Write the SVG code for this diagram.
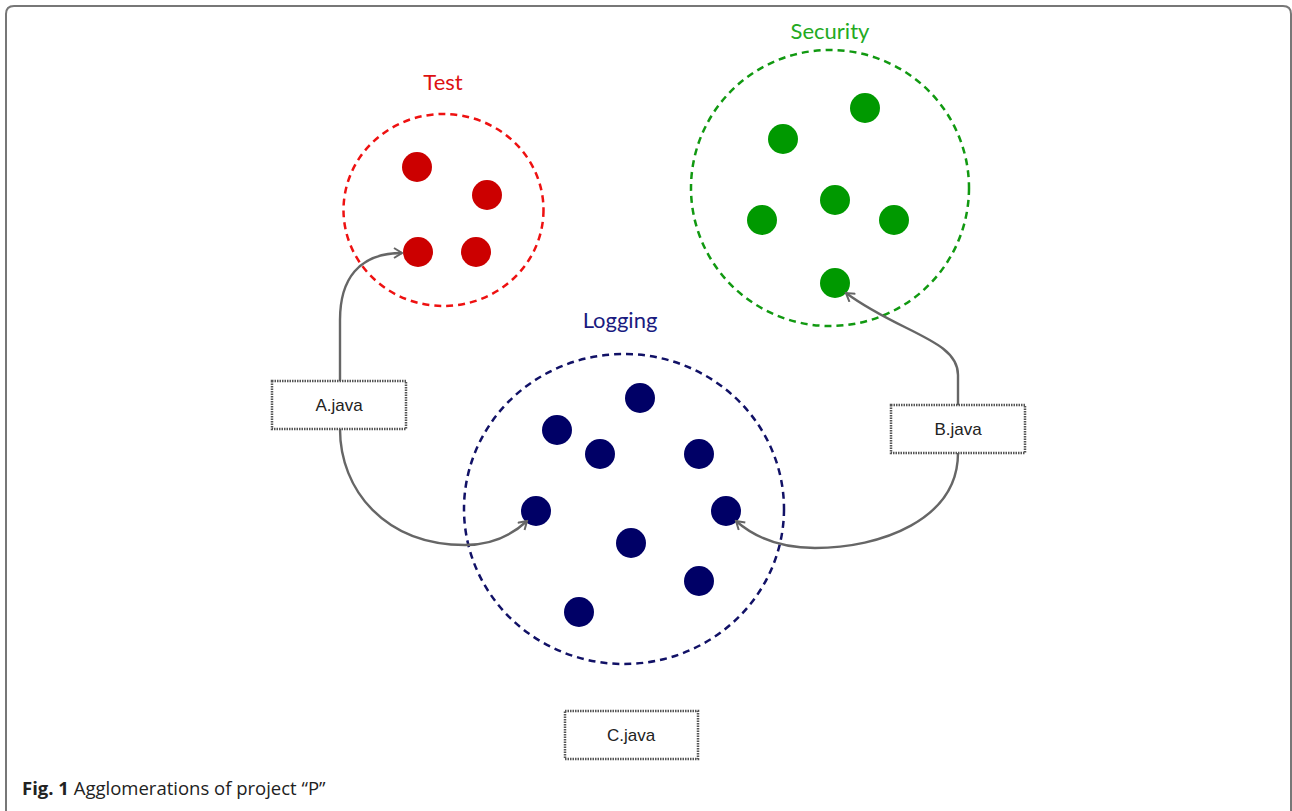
<svg xmlns="http://www.w3.org/2000/svg" width="1292" height="811" viewBox="0 0 1292 811">
<style>
.frame{fill:none;stroke:#777;stroke-width:2}
.clus{fill:none;stroke-width:2.5;stroke-dasharray:7 5}
.lbl{font-family:Lato,"Open Sans",sans-serif;font-size:22px;text-anchor:middle}
.box{fill:#fff;stroke:#555;stroke-width:2.5;stroke-dasharray:1.5 1}
.btxt{font-family:"Liberation Sans",Arial,sans-serif;font-size:17px;fill:#222;text-anchor:middle}
.conn{fill:none;stroke:#666;stroke-width:2.4}
.r{fill:#cc0000}.g{fill:#009900}.n{fill:#000066}
.cap{font-family:"Open Sans","Noto Sans",sans-serif;font-size:18.5px;fill:#222}
</style>
<defs>
<marker id="arr" viewBox="0 0 12 12" refX="10" refY="6" markerWidth="12" markerHeight="12" markerUnits="userSpaceOnUse" orient="auto">
<path d="M2,1 L10,6 L2,11" fill="none" stroke="#666" stroke-width="2"/>
</marker>
</defs>
<rect width="1292" height="811" fill="#fff"/>
<path class="frame" d="M6,811 V14 Q6,6 14,6 H1283 Q1291,6 1291,14 V811"/>

<g id="test">
<ellipse class="clus" cx="443.5" cy="210" rx="100" ry="96" stroke="#ee1111"/>
<text class="lbl" x="443" y="90" fill="#dd1111">Test</text>
<circle class="r" cx="417" cy="167" r="15"/>
<circle class="r" cx="487" cy="195" r="15"/>
<circle class="r" cx="418" cy="252" r="15"/>
<circle class="r" cx="476" cy="252" r="15"/>
</g>

<g id="security">
<ellipse class="clus" cx="830" cy="188" rx="139" ry="138" stroke="#119911"/>
<text class="lbl" x="830" y="39" fill="#22aa22">Security</text>
<circle class="g" cx="865" cy="108" r="15"/>
<circle class="g" cx="783" cy="139" r="15"/>
<circle class="g" cx="835" cy="200" r="15"/>
<circle class="g" cx="762" cy="220" r="15"/>
<circle class="g" cx="894" cy="220" r="15"/>
<circle class="g" cx="835" cy="283" r="15"/>
</g>

<g id="logging">
<ellipse class="clus" cx="624" cy="509" rx="160" ry="155" stroke="#111166"/>
<text class="lbl" x="620" y="328" fill="#1a1a80">Logging</text>
<circle class="n" cx="640" cy="398" r="15"/>
<circle class="n" cx="557" cy="430" r="15"/>
<circle class="n" cx="600" cy="454" r="15"/>
<circle class="n" cx="699" cy="454" r="15"/>
<circle class="n" cx="536" cy="511" r="15"/>
<circle class="n" cx="726" cy="511" r="15"/>
<circle class="n" cx="631" cy="543" r="15"/>
<circle class="n" cx="699" cy="581" r="15"/>
<circle class="n" cx="579" cy="612" r="15"/>
</g>

<g id="connectors">
<path class="conn" d="M340,381 L340,320 C340,280 358,253 402,253" marker-end="url(#arr)"/>
<path class="conn" d="M340,429 C340,490 385,545 465,545 C492,545 512,535 527,521" marker-end="url(#arr)"/>
<path class="conn" d="M958,405 L958,375 C958,340 900,333 846,293" marker-end="url(#arr)"/>
<path class="conn" d="M958,453 C958,520 880,548 815,548 C775,548 752,535 736,521" marker-end="url(#arr)"/>
</g>

<g id="a-java">
<rect class="box" x="272" y="381" width="134" height="48"/>
<text class="btxt" x="339" y="411">A.java</text>
</g>
<g id="b-java">
<rect class="box" x="891" y="405" width="134" height="48"/>
<text class="btxt" x="958" y="435">B.java</text>
</g>
<g id="c-java">
<rect class="box" x="565" y="711" width="133" height="48"/>
<text class="btxt" x="631" y="741">C.java</text>
</g>

<text class="cap" x="22" y="795"><tspan font-weight="bold">Fig. 1</tspan> Agglomerations of project “P”</text>
</svg>
